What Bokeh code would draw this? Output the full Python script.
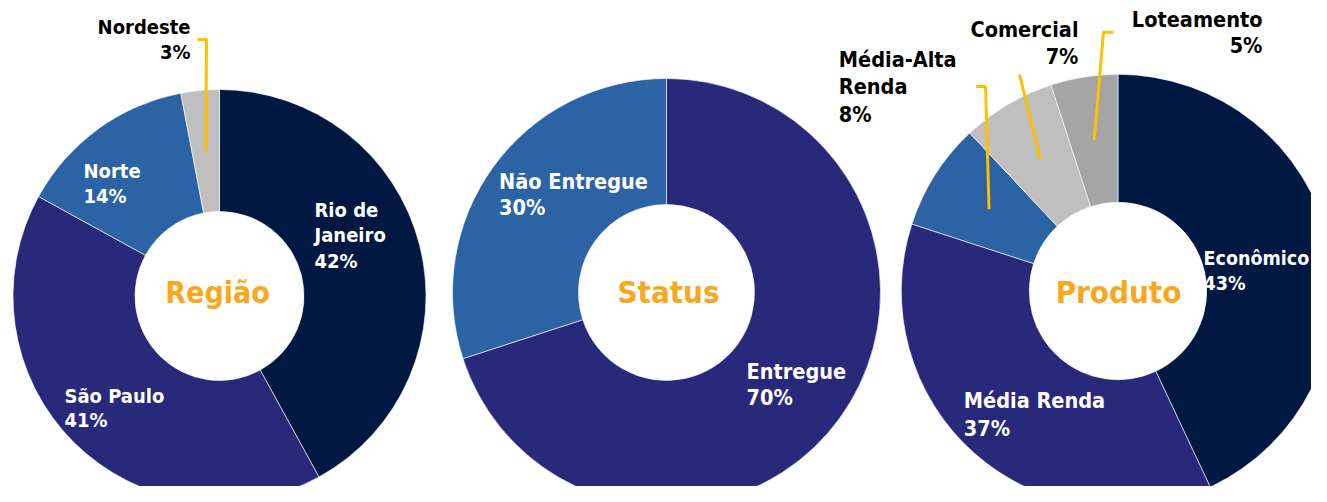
import math
from bokeh.plotting import figure
from bokeh.models import Range1d
from bokeh.core.properties import value
from bokeh.embed import file_html
from bokeh.resources import INLINE

# ---------------- data ----------------
regiao_labels = ["Rio de Janeiro", "São Paulo", "Norte", "Nordeste"]
regiao_values = [42, 41, 14, 3]

status_labels = ["Entregue", "Não Entregue"]
status_values = [70, 30]

produto_labels = ["Econômico", "Média Renda", "Média-Alta Renda", "Comercial", "Loteamento"]
produto_values = [43, 37, 8, 7, 5]

titles = ["Região", "Status", "Produto"]

# ---------------- style / layout ----------------
NAVY, INDIGO, BLUE, LGRAY, MGRAY = "#011843", "#29297B", "#2B63A5", "#BFBFBF", "#A5A5A5"
GOLD, ORANGE = "#FFC000", "#F9A71C"
FONT = "DejaVu Sans Condensed"

regiao_colors = [NAVY, INDIGO, BLUE, LGRAY]
status_colors = [INDIGO, BLUE]
produto_colors = [NAVY, INDIGO, BLUE, LGRAY, MGRAY]

W, H = 1311, 486
BASE_SHIFT = 0.375  # em; renderer places the alphabetic baseline this much low


def Y(ry):
    return H - ry


# donut geometry (picture pixel coords): center x, center y, inner r, outer r
donuts = [
    dict(values=regiao_values, labels=regiao_labels, colors=regiao_colors,
         cx=219, cy=295.5, ri=84.5, ro=206.5, title=titles[0], tx=217, size=20, tsize=30),
    dict(values=status_values, labels=status_labels, colors=status_colors,
         cx=666, cy=292, ri=88, ro=214, title=titles[1], tx=668, size=21.5, tsize=31),
    dict(values=produto_values, labels=produto_labels, colors=produto_colors,
         cx=1117.5, cy=290.5, ri=88.7, ro=216.7, title=titles[2], tx=1118, size=21.5, tsize=31),
]

# label layout: lines of the name, anchor x, first baseline, line step, align, colour, size override
label_layout = {
    "Rio de Janeiro": (["Rio de", "Janeiro"], 314, 216.7, 25.5, "left", "white", None),
    "São Paulo": (["São Paulo"], 64, 402.7, 24.5, "left", "white", None),
    "Norte": (["Norte"], 83, 178, 25, "left", "white", None),
    "Nordeste": (["Nordeste"], 190, 33.5, 25.5, "right", "black", None),
    "Entregue": (["Entregue"], 746, 379.3, 25.8, "left", "white", None),
    "Não Entregue": (["Não Entregue"], 498.5, 189.3, 25.8, "left", "white", None),
    "Econômico": (["Econômico"], 1203, 265, 25.8, "left", "white", 19.5),
    "Média Renda": (["Média Renda"], 963.3, 408.3, 27.7, "left", "white", None),
    "Média-Alta Renda": (["Média-Alta", "Renda"], 838.3, 66.7, 27.5, "left", "black", None),
    "Comercial": (["Comercial"], 1078, 37.3, 27, "right", "black", None),
    "Loteamento": (["Loteamento"], 1262, 26.7, 26.6, "right", "black", None),
}

# leader lines: fixed points near the label; the last point is the slice's centre
leader_layout = {
    "Nordeste": [(197, 39), (206, 39)],
    "Média-Alta Renda": [(975.7, 86), (985, 86)],
    "Comercial": [(1019, 74)],
    "Loteamento": [(1113, 31.7), (1103, 31.7)],
}

# ---------------- figure ----------------
p = figure(width=W, height=H, x_range=Range1d(0, W), y_range=Range1d(0, H),
           output_backend="svg", toolbar_location=None, min_border=0)
p.axis.visible = False
p.grid.visible = False
p.outline_line_color = None
p.background_fill_color = "white"
p.border_fill_color = "white"

texts = []  # (x, y, text, align, colour, size)
leaders = []

for d in donuts:
    total = float(sum(d["values"]))
    cum = 0.0
    sa, ea = [], []
    for lab, v, col in zip(d["labels"], d["values"], d["colors"]):
        t1 = cum / total * 360.0
        cum += v
        t2 = cum / total * 360.0
        sa.append(math.radians(90 - t2))
        ea.append(math.radians(90 - t1))
        tm = math.radians((t1 + t2) / 2)
        rm = (d["ri"] + d["ro"]) / 2
        mx = d["cx"] + rm * math.sin(tm)
        my = d["cy"] - rm * math.cos(tm)
        lines, ax, by, step, align, tcol, sz = label_layout[lab]
        sz = sz or d["size"]
        all_lines = lines + [f"{v}%"]
        for i, s in enumerate(all_lines):
            texts.append((ax, Y(by + i * step) + BASE_SHIFT * sz, s, align, tcol, sz))
        if lab in leader_layout:
            pts = leader_layout[lab] + [(mx, my)]
            leaders.append(([q[0] for q in pts], [Y(q[1]) for q in pts]))
    n = len(d["values"])
    p.annular_wedge(x=[d["cx"]] * n, y=[Y(d["cy"])] * n, inner_radius=d["ri"], outer_radius=d["ro"],
                    start_angle=sa, end_angle=ea, direction="anticlock",
                    fill_color=d["colors"], line_color="white", line_width=0.6)
    texts.append((d["tx"], Y(303) + BASE_SHIFT * d["tsize"], d["title"], "center", ORANGE, d["tsize"]))

for lx, ly in leaders:
    p.line(lx, ly, line_color=GOLD, line_width=3)

for (x, y, s, align, col, size) in texts:
    p.text(x=[x], y=[y], text=[s], text_align=align, text_baseline="alphabetic",
           text_font=value(FONT), text_font_style="bold", text_font_size=f"{size}px", text_color=col)

open("out.html", "w").write(file_html(p, INLINE))
